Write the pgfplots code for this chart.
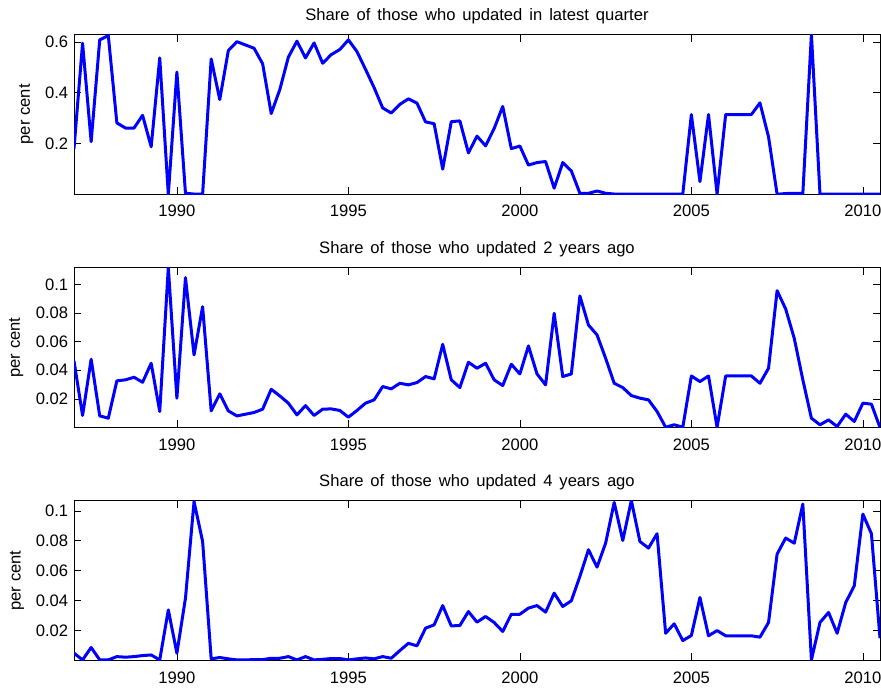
\documentclass[border=0pt]{standalone}
\usepackage{fontspec}
\setmainfont{Liberation Sans}
\usepackage{pgfplots}
\usepackage{pgfplotstable}
\pgfplotsset{compat=1.18}
\definecolor{mblue}{RGB}{0,0,255}

\pgfplotstableread{
x a b c
1987.00 0.180 0.0465 0.0049
1987.25 0.595 0.0084 0.0004
1987.50 0.207 0.0477 0.0087
1987.75 0.608 0.0081 0.0004
1988.00 0.625 0.0065 0.0004
1988.25 0.281 0.0326 0.0026
1988.50 0.261 0.0333 0.0022
1988.75 0.261 0.0351 0.0026
1989.00 0.311 0.0316 0.0033
1989.25 0.187 0.0449 0.0037
1989.50 0.537 0.0112 0.0004
1989.75 0.000 0.1118 0.0338
1990.00 0.481 0.0205 0.0049
1990.25 0.004 0.1047 0.0416
1990.50 0.001 0.0507 0.1062
1990.75 0.001 0.0844 0.0795
1991.00 0.533 0.0116 0.0011
1991.25 0.373 0.0235 0.0020
1991.50 0.566 0.0116 0.0011
1991.75 0.601 0.0081 0.0004
1992.00 0.588 0.0093 0.0004
1992.25 0.575 0.0105 0.0006
1992.50 0.514 0.0128 0.0006
1992.75 0.318 0.0267 0.0015
1993.00 0.412 0.0221 0.0015
1993.25 0.540 0.0170 0.0026
1993.50 0.603 0.0088 0.0004
1993.75 0.537 0.0153 0.0026
1994.00 0.596 0.0084 0.0004
1994.25 0.516 0.0128 0.0008
1994.50 0.550 0.0130 0.0013
1994.75 0.570 0.0119 0.0013
1995.00 0.608 0.0072 0.0004
1995.25 0.562 0.0119 0.0011
1995.50 0.492 0.0170 0.0017
1995.75 0.420 0.0193 0.0011
1996.00 0.340 0.0286 0.0026
1996.25 0.320 0.0270 0.0015
1996.50 0.354 0.0309 0.0066
1996.75 0.376 0.0298 0.0115
1997.00 0.359 0.0314 0.0098
1997.25 0.285 0.0356 0.0216
1997.50 0.278 0.0340 0.0238
1997.75 0.099 0.0581 0.0367
1998.00 0.286 0.0333 0.0231
1998.25 0.289 0.0279 0.0234
1998.50 0.163 0.0456 0.0327
1998.75 0.229 0.0414 0.0256
1999.00 0.191 0.0449 0.0294
1999.25 0.259 0.0333 0.0254
1999.50 0.346 0.0293 0.0194
1999.75 0.180 0.0442 0.0309
2000.00 0.190 0.0374 0.0309
2000.25 0.115 0.0570 0.0350
2000.50 0.125 0.0374 0.0367
2000.75 0.129 0.0298 0.0323
2001.00 0.024 0.0798 0.0450
2001.25 0.125 0.0356 0.0361
2001.50 0.092 0.0374 0.0399
2001.75 0.004 0.0919 0.0562
2002.00 0.004 0.0716 0.0740
2002.25 0.013 0.0647 0.0624
2002.50 0.004 0.0484 0.0784
2002.75 0.001 0.0309 0.1056
2003.00 0.001 0.0279 0.0802
2003.25 0.001 0.0223 0.1069
2003.50 0.001 0.0205 0.0795
2003.75 0.001 0.0193 0.0751
2004.00 0.001 0.0112 0.0847
2004.25 0.001 0.0002 0.0182
2004.50 0.001 0.0019 0.0245
2004.75 0.001 0.0002 0.0133
2005.00 0.314 0.0360 0.0167
2005.25 0.050 0.0321 0.0421
2005.50 0.314 0.0360 0.0165
2005.75 0.001 0.0002 0.0200
2006.00 0.314 0.0360 0.0165
2006.25 0.314 0.0360 0.0165
2006.50 0.314 0.0360 0.0165
2006.75 0.314 0.0360 0.0165
2007.00 0.360 0.0309 0.0156
2007.25 0.226 0.0414 0.0254
2007.50 0.000 0.0956 0.0711
2007.75 0.003 0.0828 0.0818
2008.00 0.004 0.0623 0.0784
2008.25 0.003 0.0333 0.1045
2008.50 0.630 0.0065 0.0004
2008.75 0.001 0.0019 0.0254
2009.00 0.001 0.0053 0.0321
2009.25 0.001 0.0007 0.0182
2009.50 0.001 0.0093 0.0387
2009.75 0.001 0.0042 0.0499
2010.00 0.001 0.0170 0.0978
2010.25 0.001 0.0163 0.0847
2010.50 0.001 0.0000 0.0149
}\shares

\pgfplotsset{
  panel/.style={
    scale only axis, width=806bp, height=160bp,
    anchor=south west,
    xmin=1987, xmax=2010.5, ymin=0,
    xtick={1990,1995,2000,2005,2010},
    xticklabels={1990,1995,2000,2005,2010},
    tick align=inside, xtick pos=both, ytick pos=both,
    major tick length=7.5bp, minor tick num=0,
    tick style={black, line width=0.6bp},
    axis line style={black, line width=0.8bp},
    xticklabel style={anchor=base, yshift=-22.7bp},
    yticklabel style={anchor=east, inner sep=0pt, xshift=-5.7bp},
    every axis title/.style={at={(0.5,1)}, anchor=base, yshift=14bp,
      font={\spaceskip=0.42em plus 0.1em\relax}},
    clip=true,
  },
  series/.style={mblue, line width=3bp, line join=round, mark=none},
}

\begin{document}
\fontsize{16.6bp}{19bp}\selectfont
\begin{tikzpicture}
\useasboundingbox (0,0) rectangle (881bp,688bp);

\begin{axis}[panel, at={(74bp,493.7bp)}, ymax=0.63,
  ytick={0.2,0.4,0.6}, yticklabels={0.2,0.4,0.6},
  title={Share of those who updated in latest quarter},
  ylabel={per cent},
  every axis y label/.style={at={(axis description cs:-0.0546,0.5)}, rotate=90, anchor=base}]
\addplot[series] table[x=x, y=a] {\shares};
\end{axis}

\begin{axis}[panel, at={(74bp,260.5bp)}, ymax=0.1118,
  ytick={0.02,0.04,0.06,0.08,0.1}, yticklabels={0.02,0.04,0.06,0.08,0.1},
  title={Share of those who updated 2 years ago},
  ylabel={per cent},
  every axis y label/.style={at={(axis description cs:-0.0671,0.5)}, rotate=90, anchor=base}]
\addplot[series] table[x=x, y=b] {\shares};
\end{axis}

\begin{axis}[panel, at={(74bp,27.5bp)}, ymax=0.1069,
  ytick={0.02,0.04,0.06,0.08,0.1}, yticklabels={0.02,0.04,0.06,0.08,0.1},
  title={Share of those who updated 4 years ago},
  ylabel={per cent},
  every axis y label/.style={at={(axis description cs:-0.0663,0.5)}, rotate=90, anchor=base}]
\addplot[series] table[x=x, y=c] {\shares};
\end{axis}
\end{tikzpicture}
\end{document}
